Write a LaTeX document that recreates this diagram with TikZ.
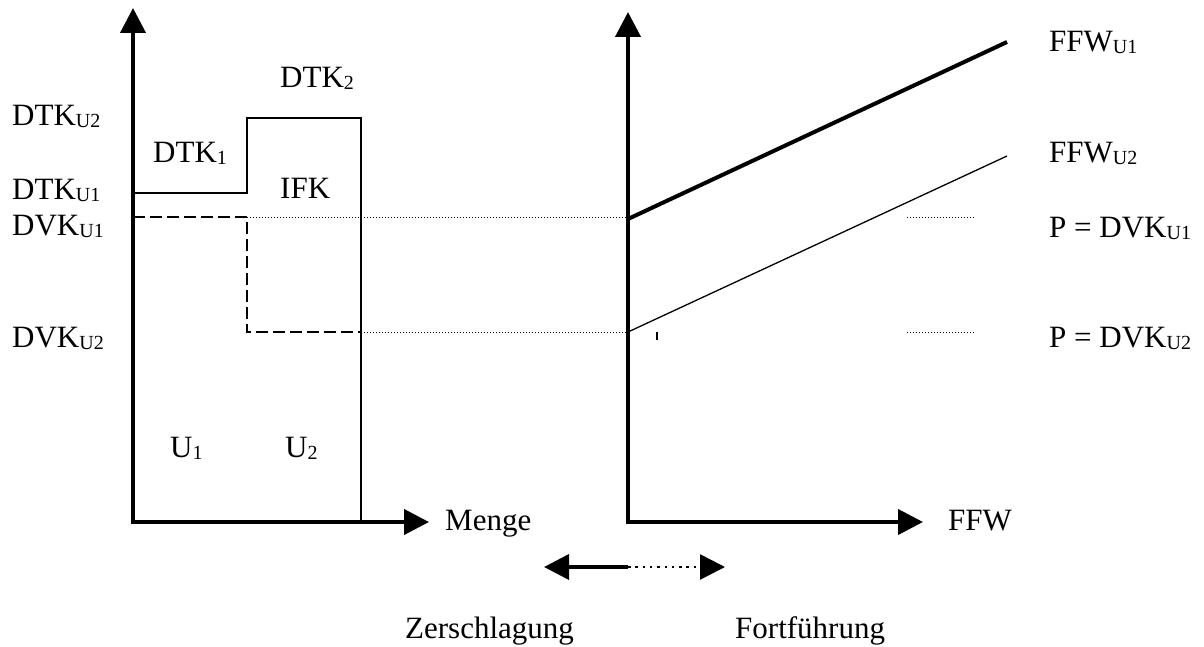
\documentclass[tikz,border=0pt]{standalone}
\usepackage{fontspec}
\setmainfont{Liberation Serif}
\usetikzlibrary{arrows.meta}
\newcommand\subtxt[1]{\raisebox{-2pt}{\fontsize{20}{20}\selectfont #1}}
\begin{document}
\begin{tikzpicture}[x=1pt,y=-1pt,
  lbl/.style={anchor=base west, inner sep=0pt, font=\fontsize{31}{37}\selectfont},
  axisline/.style={line width=4pt, line join=miter},
  thinline/.style={line width=1.3pt},
  dashline/.style={line width=1.3pt, dash pattern=on 12pt off 5pt},
  dotline/.style={line width=0.9pt, dash pattern=on 1pt off 2pt},
  bigdots/.style={line width=2.5pt, dash pattern=on 2.5pt off 4.8pt},
  >={Triangle[length=25pt,width=25pt]}]
\useasboundingbox (0,0) rectangle (1204,647);
% coordinates
\coordinate (LT) at (133,8);
\coordinate (LO) at (133,522);
\coordinate (LX) at (429,522);
\coordinate (RT) at (628,12);
\coordinate (RO) at (628,522);
\coordinate (RX) at (923,522);
\coordinate (a1) at (133,193);
\coordinate (a2) at (247,193);
\coordinate (a3) at (247,118);
\coordinate (a4) at (361,118);
\coordinate (a5) at (361,522);
\coordinate (d1) at (133,217);
\coordinate (d2) at (247,217);
\coordinate (d3) at (247,332);
\coordinate (d4) at (361,332);
\coordinate (p1) at (628,217);
\coordinate (p2) at (628,332);
\coordinate (f1s) at (628,219);
\coordinate (f1e) at (1007,42);
\coordinate (f2e) at (1007,156);
\coordinate (s1a) at (907,217);
\coordinate (s1b) at (974,217);
\coordinate (s2a) at (907,332);
\coordinate (s2b) at (974,332);
\coordinate (t1) at (657,332);
\coordinate (t2) at (657,340);
\coordinate (bl) at (544,567);
\coordinate (bm) at (628,567);
\coordinate (br) at (725,567);
% axes
\draw[axisline,<->] (LT) -- (LO) -- (LX);
\draw[axisline,<->] (RT) -- (RO) -- (RX);
% steps
\draw[thinline] (a1) -- (a2) -- (a3) -- (a4) -- (a5);
\draw[dashline] (d1) -- (d2) -- (d3) -- (d4);
\draw[dotline] (d2) -- (p1);
\draw[dotline] (d4) -- (p2);
% FFW lines
\draw[line width=4pt] (f1s) -- (f1e);
\draw[thinline] (p2) -- (f2e);
\draw[dotline] (s1a) -- (s1b);
\draw[dotline] (s2a) -- (s2b);
\draw[line width=1.3pt] (t1) -- (t2);
% double arrow
\draw[line width=3.5pt,<-] (bl) -- (bm);
\draw[bigdots,->] (bm) -- (br);
% labels
\node[lbl] (DTKU2) at (12,126) {DTK\subtxt{U2}};
\node[lbl] (DTKU1) at (12,200) {DTK\subtxt{U1}};
\node[lbl] (DVKU1) at (12,235) {DVK\subtxt{U1}};
\node[lbl] (DVKU2) at (12,347) {DVK\subtxt{U2}};
\node[lbl] (DTK2) at (280,88) {DTK\subtxt{2}};
\node[lbl] (DTK1) at (153,163) {DTK\subtxt{1}};
\node[lbl] (IFK) at (280,198) {IFK};
\node[lbl] (U1) at (170,457) {U\subtxt{1}};
\node[lbl] (U2) at (285,457) {U\subtxt{2}};
\node[lbl] (Menge) at (445,530) {Menge};
\node[lbl] (FFW) at (948,530) {FFW};
\node[lbl] (FFWU1) at (1049,52) {FFW\subtxt{U1}};
\node[lbl] (FFWU2) at (1049,163) {FFW\subtxt{U2}};
\node[lbl] (PU1) at (1049,237) {P = DVK\subtxt{U1}};
\node[lbl] (PU2) at (1049,347) {P = DVK\subtxt{U2}};
\node[lbl] (Zer) at (405,638) {Zerschlagung};
\node[lbl] (Fort) at (735,638) {Fortführung};
\end{tikzpicture}
\end{document}
